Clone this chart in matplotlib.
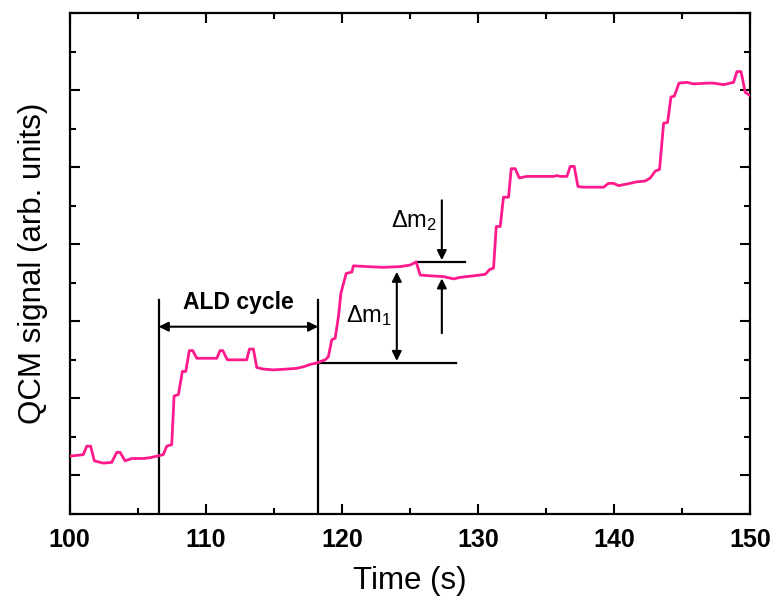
import numpy as np
import matplotlib
matplotlib.use('Agg')
import matplotlib.pyplot as plt
from matplotlib.ticker import MultipleLocator, NullFormatter

plt.rcParams['font.family'] = ['Liberation Sans', 'DejaVu Sans']
plt.rcParams['mathtext.fontset'] = 'custom'
plt.rcParams['mathtext.rm'] = 'Liberation Sans'
plt.rcParams['mathtext.it'] = 'Liberation Sans:italic'
plt.rcParams['mathtext.bf'] = 'Liberation Sans:bold'

# QCM trace read as (time, signal) pairs
time_s = [100.0, 101.0, 101.25, 101.54, 101.81, 102.23, 102.47, 103.09, 103.46, 103.70,
          104.07, 104.56, 105.41, 105.90, 106.40, 106.88, 107.13, 107.50, 107.67, 107.99,
          108.28, 108.53, 108.79, 109.04, 109.34, 110.81, 111.05, 111.25, 111.59, 113.01,
          113.21, 113.50, 113.75, 114.24, 114.97, 115.96, 116.69, 117.18, 117.67, 118.16,
          118.77, 119.01, 119.26, 119.51, 119.75, 119.93, 120.12, 120.32, 120.74, 120.85,
          121.84, 123.06, 124.29, 125.02, 125.46, 125.76, 126.49, 127.47, 128.21, 128.70,
          129.68, 130.54, 130.85, 131.15, 131.35, 131.64, 131.88, 132.25, 132.45, 132.74,
          133.04, 133.60, 135.56, 135.81, 136.05, 136.54, 136.79, 137.08, 137.35, 137.76,
          139.24, 139.60, 139.97, 140.34, 141.20, 141.69, 142.30, 142.67, 143.04, 143.35,
          143.65, 143.94, 144.19, 144.43, 144.78, 145.37, 145.85, 146.84, 147.32, 148.06,
          148.79, 149.04, 149.34, 149.65, 149.90, 150.0]
signal = [0.25, 0.27, 0.38, 0.38, 0.19, 0.17, 0.16, 0.17, 0.30, 0.30,
          0.19, 0.22, 0.22, 0.23, 0.25, 0.27, 0.38, 0.40, 1.03, 1.05,
          1.35, 1.35, 1.62, 1.62, 1.52, 1.52, 1.62, 1.62, 1.50, 1.50,
          1.64, 1.64, 1.40, 1.38, 1.37, 1.38, 1.39, 1.41, 1.44, 1.46,
          1.50, 1.54, 1.76, 1.78, 2.06, 2.36, 2.49, 2.62, 2.64, 2.72,
          2.71, 2.70, 2.71, 2.73, 2.77, 2.60, 2.59, 2.58, 2.55, 2.57,
          2.59, 2.61, 2.67, 2.69, 3.23, 3.23, 3.61, 3.61, 3.98, 3.98,
          3.86, 3.88, 3.88, 3.89, 3.88, 3.88, 4.01, 4.01, 3.75, 3.74,
          3.74, 3.79, 3.79, 3.76, 3.79, 3.81, 3.82, 3.86, 3.95, 3.97,
          4.57, 4.58, 4.91, 4.92, 5.09, 5.10, 5.08, 5.09, 5.09, 5.07,
          5.10, 5.24, 5.24, 4.97, 4.94, 4.93]

# annotation positions
cycle_start, cycle_end = 106.54, 118.26
cycle_top = 2.28
cycle_arrow_y = 1.93
base_level = 1.455
base_end = 128.4
dm1_x, dm1_top = 124.04, 2.643
step_level = 2.773
step_x0, step_x1 = 125.46, 129.08
dm2_x = 127.35
dm2_down_from = 3.57
dm2_up_from, dm2_up_to = 1.846, 2.557

fig = plt.figure(figsize=(7.71, 5.96), dpi=100)
ax = fig.add_axes([0.0904, 0.1376, 0.8824, 0.8406])

ax.plot(time_s, signal, color='#ff1a8c', lw=2.0, zorder=3)

arrow_kw = dict(color='k', lw=1.5, shrinkA=0, shrinkB=0, mutation_scale=14)

# ALD cycle markers
for t in (cycle_start, cycle_end):
    ax.plot([t, t], [-0.5, cycle_top], color='k', lw=1.6)
ax.annotate('', xy=(cycle_end, cycle_arrow_y), xytext=(cycle_start, cycle_arrow_y),
            arrowprops=dict(arrowstyle='<|-|>', **arrow_kw))
ax.text((cycle_start + cycle_end) / 2, 2.24, 'ALD cycle', ha='center', va='center',
        fontsize=16.5, fontweight='bold')

# delta m1
ax.plot([cycle_end, base_end], [base_level, base_level], color='k', lw=1.6)
ax.annotate('', xy=(dm1_x, base_level + 0.03), xytext=(dm1_x, dm1_top),
            arrowprops=dict(arrowstyle='<|-|>', **arrow_kw))
ax.text(122.03, 2.08, r'$\Delta$m$_{1}$', ha='center', va='center', fontsize=17)

# delta m2
ax.plot([step_x0, step_x1], [step_level, step_level], color='k', lw=1.6)
ax.annotate('', xy=(dm2_x, step_level + 0.02), xytext=(dm2_x, dm2_down_from),
            arrowprops=dict(arrowstyle='-|>', **arrow_kw))
ax.annotate('', xy=(dm2_x, dm2_up_to), xytext=(dm2_x, dm2_up_from),
            arrowprops=dict(arrowstyle='-|>', **arrow_kw))
ax.text(125.3, 3.31, r'$\Delta$m$_{2}$', ha='center', va='center', fontsize=17)

ax.set_xlim(100, 150)
ax.set_ylim(-0.5, 6.0)
ax.xaxis.set_major_locator(MultipleLocator(10))
ax.xaxis.set_minor_locator(MultipleLocator(5))
ax.yaxis.set_major_locator(MultipleLocator(1))
ax.yaxis.set_minor_locator(MultipleLocator(0.5))
ax.yaxis.set_major_formatter(NullFormatter())
ax.tick_params(which='both', direction='in', top=True, right=True, width=1.5)
ax.tick_params(which='major', length=7)
ax.tick_params(which='minor', length=4)
ax.tick_params(axis='x', labelsize=18, pad=10)
for lab in ax.get_xticklabels():
    lab.set_fontweight('bold')
for sp in ax.spines.values():
    sp.set_linewidth(1.6)

ax.set_xlabel('Time (s)', fontsize=22.5, labelpad=10)
ax.set_ylabel('QCM signal (arb. units)', fontsize=22.5, labelpad=12)

fig.savefig('out.png', dpi=100)
